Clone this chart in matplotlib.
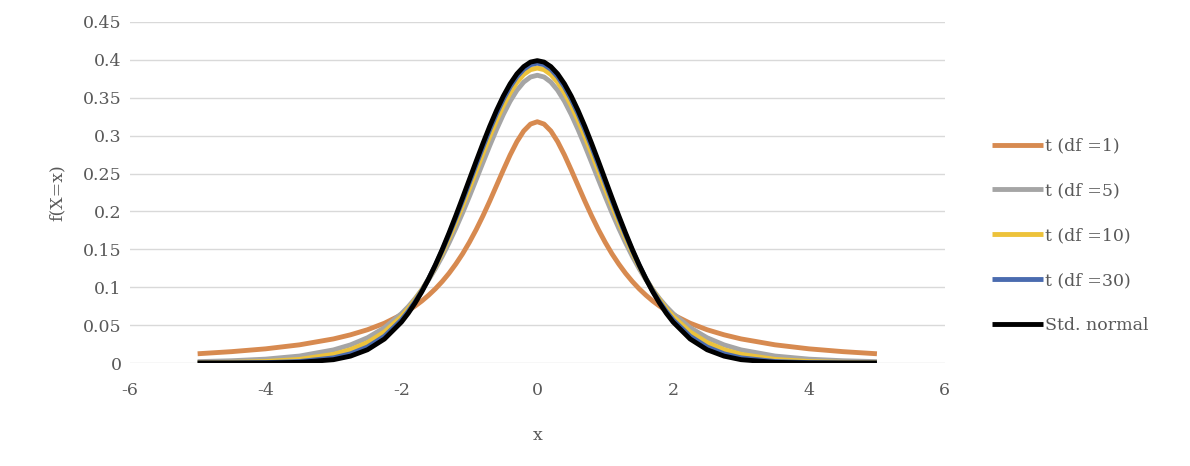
import matplotlib
matplotlib.use("Agg")
import matplotlib.pyplot as plt

# x positions (denser near the peak)
x_vals = [-5.0, -4.5, -4.0, -3.5, -3.0, -2.75, -2.5, -2.25,
          -2.0, -1.9, -1.8, -1.7, -1.6, -1.5, -1.4, -1.3, -1.2, -1.1,
          -1.0, -0.9, -0.8, -0.7, -0.6, -0.5, -0.4, -0.3, -0.2, -0.1,
          0.0,
          0.1, 0.2, 0.3, 0.4, 0.5, 0.6, 0.7, 0.8, 0.9, 1.0,
          1.1, 1.2, 1.3, 1.4, 1.5, 1.6, 1.7, 1.8, 1.9, 2.0,
          2.25, 2.5, 2.75, 3.0, 3.5, 4.0, 4.5, 5.0]

t_df1 = [0.0122, 0.0150, 0.0187, 0.0240, 0.0318, 0.0372, 0.0439, 0.0525,
         0.0637, 0.0690, 0.0751, 0.0818, 0.0894, 0.0979, 0.1075, 0.1183, 0.1305, 0.1440,
         0.1592, 0.1759, 0.1941, 0.2136, 0.2341, 0.2546, 0.2744, 0.2920, 0.3061, 0.3152,
         0.3183,
         0.3152, 0.3061, 0.2920, 0.2744, 0.2546, 0.2341, 0.2136, 0.1941, 0.1759, 0.1592,
         0.1440, 0.1305, 0.1183, 0.1075, 0.0979, 0.0894, 0.0818, 0.0751, 0.0690, 0.0637,
         0.0525, 0.0439, 0.0372, 0.0318, 0.0240, 0.0187, 0.0150, 0.0122]

t_df5 = [0.0018, 0.0030, 0.0051, 0.0092, 0.0173, 0.0239, 0.0333, 0.0466,
         0.0651, 0.0743, 0.0848, 0.0966, 0.1098, 0.1245, 0.1407, 0.1585, 0.1777, 0.1981,
         0.2197, 0.2420, 0.2645, 0.2868, 0.3081, 0.3279, 0.3454, 0.3598, 0.3706, 0.3773,
         0.3796,
         0.3773, 0.3706, 0.3598, 0.3454, 0.3279, 0.3081, 0.2868, 0.2645, 0.2420, 0.2197,
         0.1981, 0.1777, 0.1585, 0.1407, 0.1245, 0.1098, 0.0966, 0.0848, 0.0743, 0.0651,
         0.0466, 0.0333, 0.0239, 0.0173, 0.0092, 0.0051, 0.0030, 0.0018]

t_df10 = [0.0004, 0.0009, 0.0020, 0.0048, 0.0114, 0.0176, 0.0269, 0.0409,
          0.0611, 0.0714, 0.0831, 0.0963, 0.1111, 0.1274, 0.1454, 0.1649, 0.1857, 0.2076,
          0.2304, 0.2535, 0.2766, 0.2991, 0.3203, 0.3397, 0.3566, 0.3704, 0.3807, 0.3870,
          0.3891,
          0.3870, 0.3807, 0.3704, 0.3566, 0.3397, 0.3203, 0.2991, 0.2766, 0.2535, 0.2304,
          0.2076, 0.1857, 0.1649, 0.1454, 0.1274, 0.1111, 0.0963, 0.0831, 0.0714, 0.0611,
          0.0409, 0.0269, 0.0176, 0.0114, 0.0048, 0.0020, 0.0009, 0.0004]

t_df30 = [0.0000, 0.0001, 0.0005, 0.0020, 0.0068, 0.0121, 0.0211, 0.0353,
          0.0568, 0.0680, 0.0807, 0.0951, 0.1112, 0.1289, 0.1484, 0.1692, 0.1913, 0.2144,
          0.2380, 0.2618, 0.2852, 0.3078, 0.3289, 0.3479, 0.3643, 0.3777, 0.3875, 0.3936,
          0.3956,
          0.3936, 0.3875, 0.3777, 0.3643, 0.3479, 0.3289, 0.3078, 0.2852, 0.2618, 0.2380,
          0.2144, 0.1913, 0.1692, 0.1484, 0.1289, 0.1112, 0.0951, 0.0807, 0.0680, 0.0568,
          0.0353, 0.0211, 0.0121, 0.0068, 0.0020, 0.0005, 0.0001, 0.0000]

std_normal = [0.0000, 0.0000, 0.0001, 0.0009, 0.0044, 0.0091, 0.0175, 0.0317,
              0.0540, 0.0656, 0.0790, 0.0940, 0.1109, 0.1295, 0.1497, 0.1714, 0.1942, 0.2179,
              0.2420, 0.2661, 0.2897, 0.3123, 0.3332, 0.3521, 0.3683, 0.3814, 0.3910, 0.3970,
              0.3989,
              0.3970, 0.3910, 0.3814, 0.3683, 0.3521, 0.3332, 0.3123, 0.2897, 0.2661, 0.2420,
              0.2179, 0.1942, 0.1714, 0.1497, 0.1295, 0.1109, 0.0940, 0.0790, 0.0656, 0.0540,
              0.0317, 0.0175, 0.0091, 0.0044, 0.0009, 0.0001, 0.0000, 0.0000]

labels = ["t (df =1)", "t (df =5)", "t (df =10)", "t (df =30)", "Std. normal"]
x_ticks = [-6, -4, -2, 0, 2, 4, 6]
y_ticks = [0, 0.05, 0.1, 0.15, 0.2, 0.25, 0.3, 0.35, 0.4, 0.45]
y_tick_labels = ["0", "0.05", "0.1", "0.15", "0.2", "0.25", "0.3", "0.35", "0.4", "0.45"]

colors = ["#D78A50", "#A5A5A5", "#EDC23A", "#4A6BAF", "#000000"]

plt.rcParams['font.family'] = ['DejaVu Serif']
plt.rcParams['axes.unicode_minus'] = False

fig = plt.figure(figsize=(11.9, 4.66), dpi=100)
ax = fig.add_axes([0.109, 0.221, 0.685, 0.732])

series = [t_df1, t_df5, t_df10, t_df30, std_normal]
for ys, lab, c in zip(series, labels, colors):
    ax.plot(x_vals, ys, color=c, lw=3.5, label=lab, solid_capstyle='butt',
            solid_joinstyle='round')

ax.set_xlim(-6, 6)
ax.set_ylim(0, 0.45)
ax.set_xticks(x_ticks)
ax.set_yticks(y_ticks)
ax.set_yticklabels(y_tick_labels)
ax.grid(axis='y', color='#D9D9D9', lw=1)
ax.set_axisbelow(True)
for s in ax.spines.values():
    s.set_visible(False)
ax.tick_params(length=0, labelsize=12.5, colors='#595959', pad=6)
ax.tick_params(axis='x', pad=14)

ax.set_xlabel("x", fontsize=12.5, color='#595959', labelpad=20)
ax.set_ylabel("f(X=x)", fontsize=12.5, color='#595959', labelpad=12)

leg = fig.legend(loc='center left', bbox_to_anchor=(0.834, 0.494), frameon=False,
                 fontsize=12.5, handlelength=2.9, handletextpad=0.1, labelspacing=1.6,
                 borderpad=0, borderaxespad=0)
for t in leg.get_texts():
    t.set_color('#595959')

fig.savefig("out.png", dpi=100)
